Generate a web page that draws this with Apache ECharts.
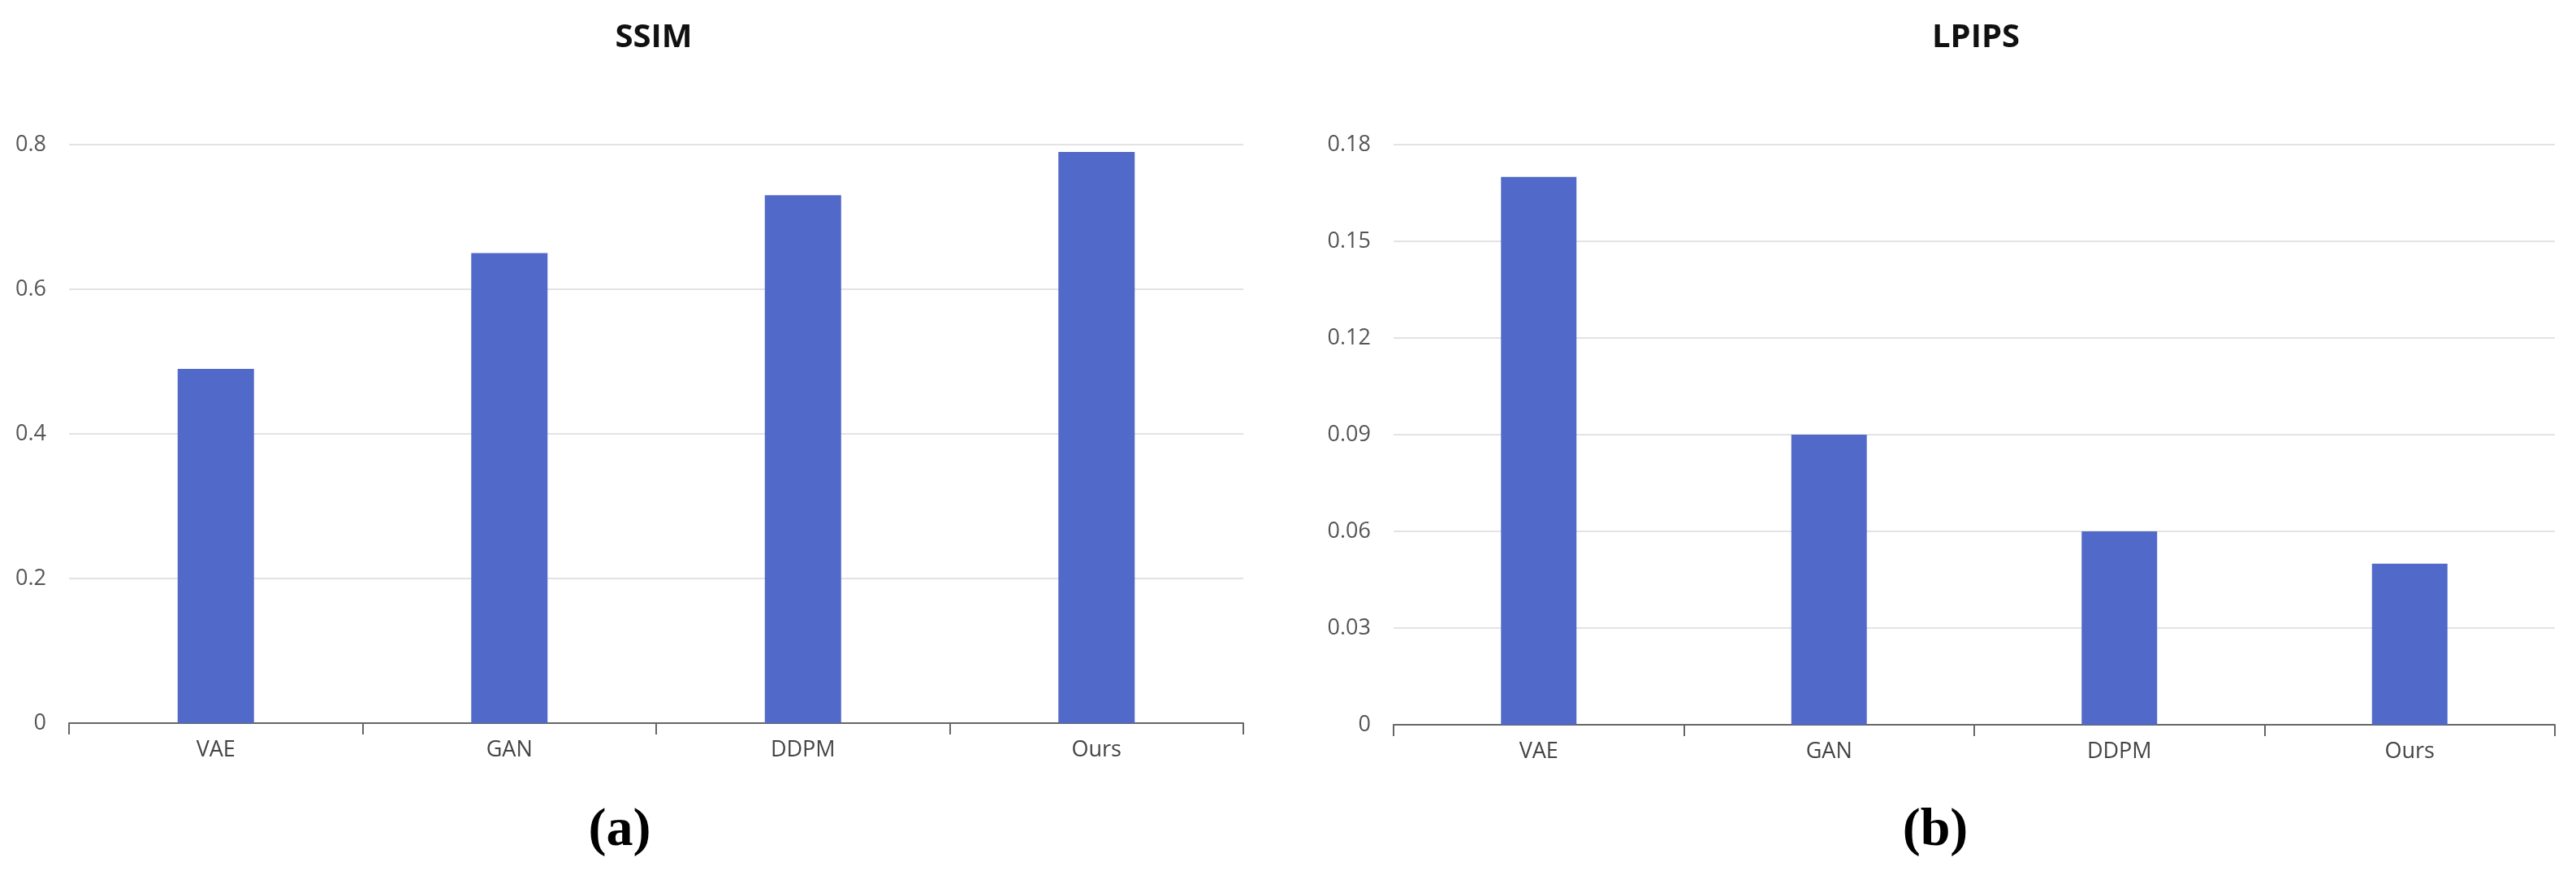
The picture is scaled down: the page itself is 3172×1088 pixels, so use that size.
<!DOCTYPE html>
<html>
<head>
<meta charset="utf-8">
<script src="https://cdn.jsdelivr.net/npm/echarts@6/dist/echarts.min.js"></script>
<style>html,body{margin:0;padding:0;background:#fff}#chart{width:3172px;height:1088px}</style>
</head>
<body>
<div id="chart"></div>
<script>
var categories = ['VAE', 'GAN', 'DDPM', 'Ours'];
var ssimValues = [0.49, 0.65, 0.73, 0.79];
var lpipsValues = [0.17, 0.09, 0.06, 0.05];

var barColor = '#5169c8';
var font = 'Open Sans';

function xAxisFor(i) {
    return {
        gridIndex: i, type: 'category', data: categories,
        axisLine: {lineStyle: {color: '#666', width: 2}},
        axisTick: {show: true, length: 14, lineStyle: {color: '#666', width: 2}},
        axisLabel: {color: '#444', fontSize: 27, fontFamily: font, margin: 20}
    };
}
function yAxisFor(i, max, interval, fmt) {
    return {
        gridIndex: i, type: 'value', min: 0, max: max, interval: interval,
        axisLine: {show: false}, axisTick: {show: false},
        splitLine: {lineStyle: {color: '#e3e3e3', width: 2}},
        axisLabel: {color: '#555', fontSize: 27, fontFamily: font, margin: 28, formatter: fmt}
    };
}
function captionLabel(letter) {
    return {
        text: '{p|(}{b|' + letter + '}{p|)}',
        textStyle: {rich: {
            p: {fontFamily: 'Liberation Serif', fontSize: 66, color: '#000'},
            b: {fontFamily: 'Liberation Serif', fontSize: 66, fontWeight: 'bold', color: '#000'}
        }}
    };
}

var chart = echarts.init(document.getElementById('chart'));
chart.setOption({
    animation: false,
    title: [
        {text: 'SSIM', left: 800, top: 22, textAlign: 'center',
         textStyle: {fontFamily: font, fontSize: 40, fontWeight: 'bold', color: '#111'}},
        {text: 'LPIPS', left: 2428, top: 22, textAlign: 'center',
         textStyle: {fontFamily: font, fontSize: 40, fontWeight: 'bold', color: '#111'}},
        Object.assign({left: 758, top: 985, textAlign: 'center'}, captionLabel('a')),
        Object.assign({left: 2378, top: 985, textAlign: 'center'}, captionLabel('b'))
    ],
    grid: [
        {left: 85, right: 3172 - 1531, top: 178, bottom: 1088 - 890},
        {left: 1716, right: 26, top: 178, bottom: 1088 - 892}
    ],
    xAxis: [xAxisFor(0), xAxisFor(1)],
    yAxis: [
        yAxisFor(0, 0.8, 0.2, function (v) { return v === 0 ? '0' : v.toFixed(1); }),
        yAxisFor(1, 0.18, 0.03, function (v) { return v === 0 ? '0' : v.toFixed(2); })
    ],
    series: [
        {type: 'bar', xAxisIndex: 0, yAxisIndex: 0, data: ssimValues, barWidth: '26%',
         itemStyle: {color: barColor}},
        {type: 'bar', xAxisIndex: 1, yAxisIndex: 1, data: lpipsValues, barWidth: '26%',
         itemStyle: {color: barColor}}
    ]
});
</script>
</body>
</html>
